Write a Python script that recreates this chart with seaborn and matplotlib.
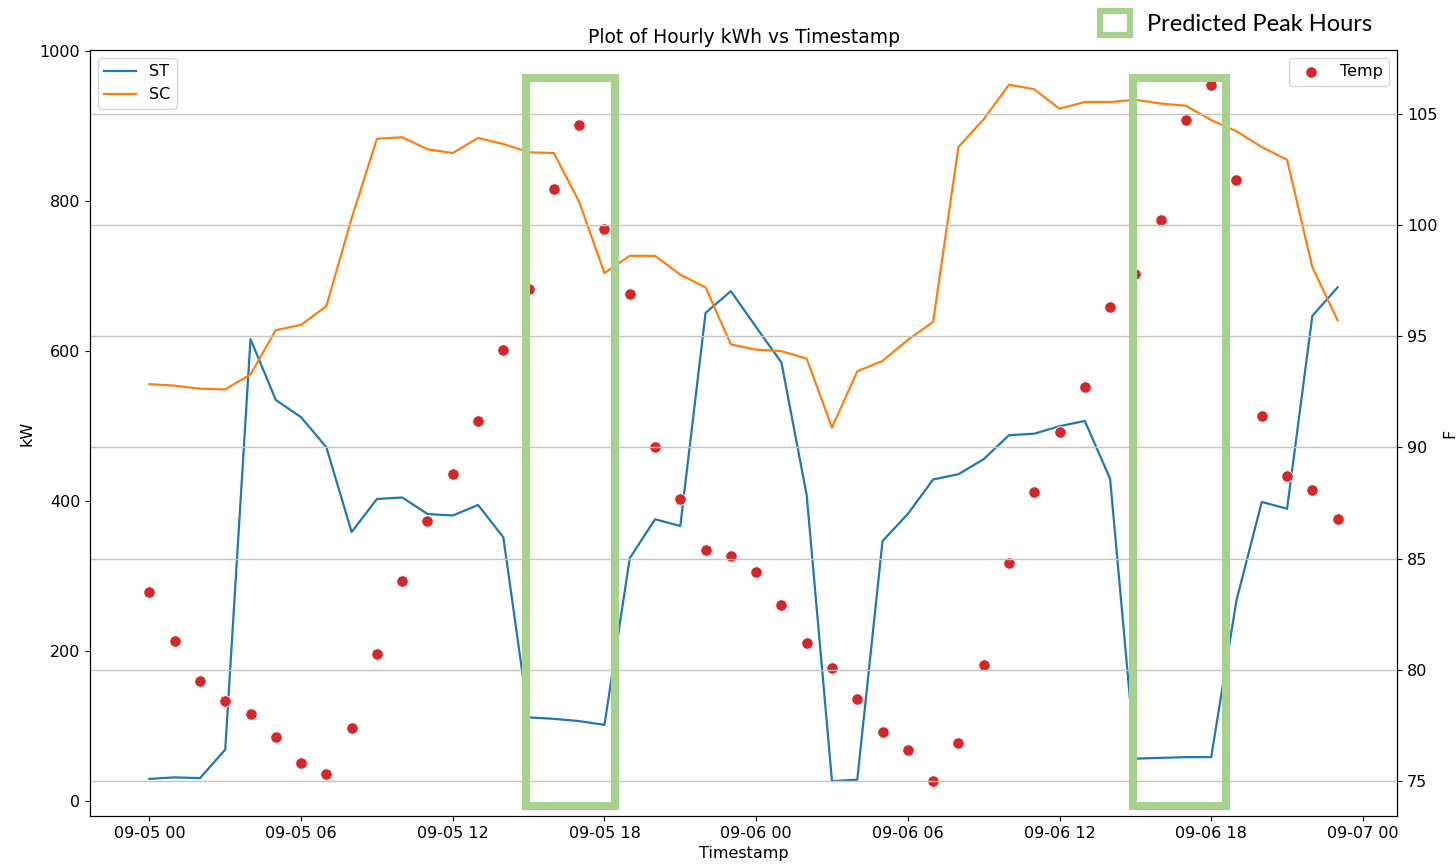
import matplotlib
matplotlib.use("Agg")
import matplotlib.pyplot as plt
import matplotlib.dates as mdates
import matplotlib.patches as mpatches
import matplotlib.transforms as mtransforms
import numpy as np
import pandas as pd
import seaborn as sns

# ---- data ----
start = "2023-09-05 00:00"
n_hours = 48
st_kw = [30, 32, 31, 69, 616, 535, 512, 472, 359, 403, 405, 383, 381, 395, 352, 112,
         110, 107, 102, 324, 376, 367, 651, 680, 632, 585, 408, 27, 29, 347, 383, 429,
         436, 456, 488, 490, 500, 507, 430, 57, 58, 59, 59, 268, 399, 390, 647, 685]
sc_kw = [556, 554, 550, 549, 569, 628, 635, 660, 777, 883, 885, 869, 864, 884, 876, 865,
         864, 799, 704, 727, 727, 702, 685, 609, 602, 600, 590, 498, 573, 587, 615, 639,
         872, 909, 955, 949, 923, 932, 932, 935, 930, 927, 908, 893, 872, 855, 712, 641]
temp_f = [83.5, 81.3, 79.5, 78.6, 78.0, 77.0, 75.8, 75.3, 77.4, 80.7,
          84.0, 86.7, 88.8, 91.2, 94.4, 97.1, 101.6, 104.5, 99.8, 96.9,
          90.0, 87.7, 85.4, 85.1, 84.4, 82.9, 81.2, 80.1, 78.7, 77.2,
          76.4, 75.0, 76.7, 80.2, 84.8, 88.0, 90.7, 92.7, 96.3, 97.8,
          100.2, 104.7, 106.3, 102.0, 91.4, 88.7, 88.1, 86.8]
peak_windows = [(14.88, 18.4), (38.9, 42.6)]  # hour offsets of predicted peak boxes

ts = pd.date_range(start, periods=n_hours, freq="h")
df = pd.DataFrame({"Timestamp": ts, "ST": st_kw, "SC": sc_kw, "Temp": temp_f})

plt.rcParams["font.family"] = ["DejaVu Sans"]
plt.rcParams["font.size"] = 11.5

fig = plt.figure(figsize=(14.56, 8.64), dpi=100)
ax = fig.add_axes([0.0618, 0.0556, 0.8977, 0.8866])
ax2 = ax.twinx()

sns.lineplot(data=df, x="Timestamp", y="ST", ax=ax, color="#1f77b4", label="ST", linewidth=1.6)
sns.lineplot(data=df, x="Timestamp", y="SC", ax=ax, color="#ff7f0e", label="SC", linewidth=1.6)
sns.scatterplot(data=df, x="Timestamp", y="Temp", ax=ax2, color="#d62728", s=68,
                label="Temp", edgecolor="white", linewidth=0.6)

ax.set_ylabel("kW")
ax.set_xlabel("Timestamp")
ax2.set_ylabel("F")
ax.set_title("Plot of Hourly kWh vs Timestamp", fontsize=13.5, pad=5)
ax.grid(False)
ax2.grid(True, axis="y", color="#c4c4c4", linewidth=1.0)
ax2.grid(False, axis="x")

ax.xaxis.set_major_locator(mdates.HourLocator(byhour=[0, 6, 12, 18]))
ax.xaxis.set_major_formatter(mdates.DateFormatter("%m-%d %H"))
ax.set_yticks([0, 200, 400, 600, 800, 1000])

ax.legend(loc="upper left")
ax2.legend(loc="upper right")

# predicted peak hour boxes
trans = mtransforms.blended_transform_factory(ax2.transData, ax2.transAxes)
t0 = ts[0]
for s, e in peak_windows:
    x0 = mdates.date2num(t0 + pd.Timedelta(hours=s))
    x1 = mdates.date2num(t0 + pd.Timedelta(hours=e))
    rect = mpatches.Rectangle((x0, 0.013), x1 - x0, 0.95, transform=trans,
                              fill=False, edgecolor="#A9D18E", linewidth=5.8,
                              zorder=20, clip_on=False, joinstyle="miter")
    ax2.add_patch(rect)

# figure-level key for the boxes
fig.patches.append(mpatches.Rectangle((0.7555, 0.9595), 0.0206, 0.0278,
                                      transform=fig.transFigure, fill=False,
                                      edgecolor="#A9D18E", linewidth=4.5,
                                      joinstyle="miter"))
fig.text(0.7878, 0.9715, "Predicted Peak Hours", fontsize=17, family=["Lato", "DejaVu Sans"],
         va="center", ha="left")

fig.savefig("out.png", dpi=100)
